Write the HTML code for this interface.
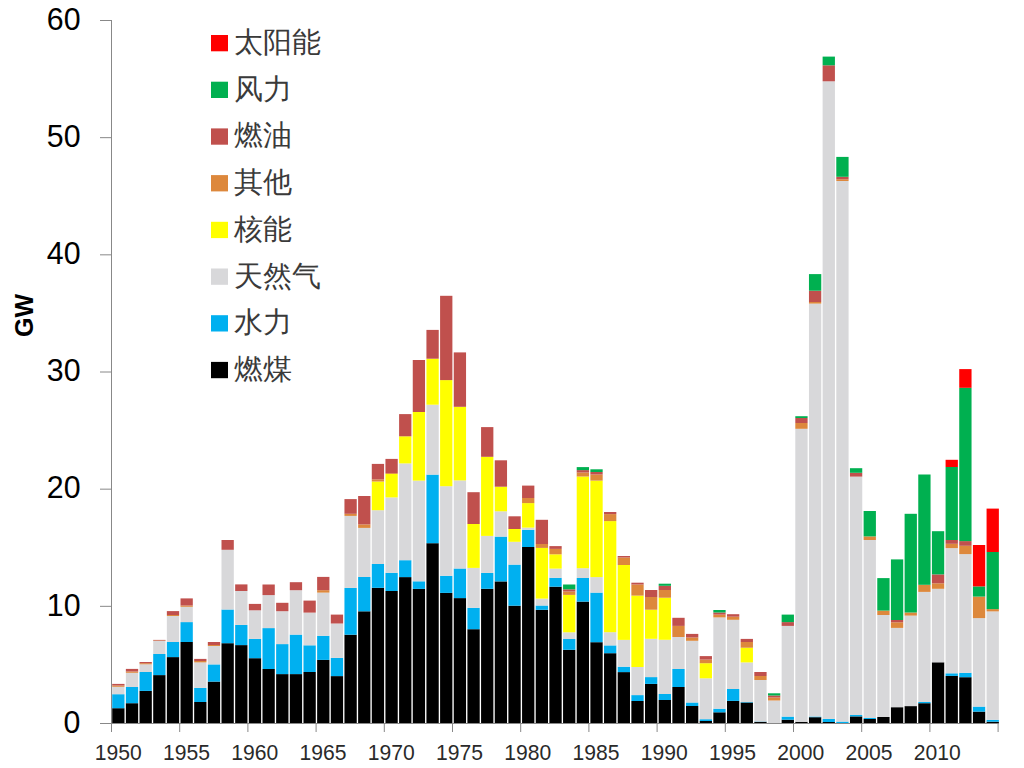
<!DOCTYPE html>
<html><head><meta charset="utf-8"><style>
html,body{margin:0;padding:0;background:#fff;}
body{width:1024px;height:768px;overflow:hidden;}
svg{display:block;}
.ax line{stroke:#888888;stroke-width:1;}
.yl text{font-family:"Liberation Sans",sans-serif;font-size:31.5px;fill:#000;}
.xl text{font-family:"Liberation Sans",sans-serif;font-size:22px;fill:#2a2a2a;}
.lg text{font-family:"Liberation Serif",serif;font-size:29px;fill:#3a3a3a;}
</style></head><body>
<svg width="1024" height="768" viewBox="0 0 1024 768">
<rect width="1024" height="768" fill="#fff"/>
<g>
<rect x="112.20" y="708.20" width="12.3" height="14.80" fill="#000000"/>
<rect x="112.20" y="694.20" width="12.3" height="14.00" fill="#00B0F0"/>
<rect x="112.20" y="686.80" width="12.3" height="7.40" fill="#D8D8DA"/>
<rect x="112.20" y="685.50" width="12.3" height="1.30" fill="#DD883C"/>
<rect x="112.20" y="683.90" width="12.3" height="1.60" fill="#C0504D"/>
<rect x="125.86" y="703.20" width="12.3" height="19.80" fill="#000000"/>
<rect x="125.86" y="687.00" width="12.3" height="16.20" fill="#00B0F0"/>
<rect x="125.86" y="672.80" width="12.3" height="14.20" fill="#D8D8DA"/>
<rect x="125.86" y="671.50" width="12.3" height="1.30" fill="#DD883C"/>
<rect x="125.86" y="668.90" width="12.3" height="2.60" fill="#C0504D"/>
<rect x="139.52" y="690.90" width="12.3" height="32.10" fill="#000000"/>
<rect x="139.52" y="672.00" width="12.3" height="18.90" fill="#00B0F0"/>
<rect x="139.52" y="664.30" width="12.3" height="7.70" fill="#D8D8DA"/>
<rect x="139.52" y="663.20" width="12.3" height="1.10" fill="#DD883C"/>
<rect x="139.52" y="662.00" width="12.3" height="1.20" fill="#C0504D"/>
<rect x="153.19" y="675.10" width="12.3" height="47.90" fill="#000000"/>
<rect x="153.19" y="654.00" width="12.3" height="21.10" fill="#00B0F0"/>
<rect x="153.19" y="641.00" width="12.3" height="13.00" fill="#D8D8DA"/>
<rect x="153.19" y="640.50" width="12.3" height="0.50" fill="#DD883C"/>
<rect x="153.19" y="639.90" width="12.3" height="0.60" fill="#C0504D"/>
<rect x="166.85" y="657.10" width="12.3" height="65.90" fill="#000000"/>
<rect x="166.85" y="642.00" width="12.3" height="15.10" fill="#00B0F0"/>
<rect x="166.85" y="616.00" width="12.3" height="26.00" fill="#D8D8DA"/>
<rect x="166.85" y="615.00" width="12.3" height="1.00" fill="#DD883C"/>
<rect x="166.85" y="611.10" width="12.3" height="3.90" fill="#C0504D"/>
<rect x="180.51" y="642.00" width="12.3" height="81.00" fill="#000000"/>
<rect x="180.51" y="622.10" width="12.3" height="19.90" fill="#00B0F0"/>
<rect x="180.51" y="606.80" width="12.3" height="15.30" fill="#D8D8DA"/>
<rect x="180.51" y="605.50" width="12.3" height="1.30" fill="#DD883C"/>
<rect x="180.51" y="598.40" width="12.3" height="7.10" fill="#C0504D"/>
<rect x="194.17" y="702.00" width="12.3" height="21.00" fill="#000000"/>
<rect x="194.17" y="687.90" width="12.3" height="14.10" fill="#00B0F0"/>
<rect x="194.17" y="662.40" width="12.3" height="25.50" fill="#D8D8DA"/>
<rect x="194.17" y="661.00" width="12.3" height="1.40" fill="#DD883C"/>
<rect x="194.17" y="658.90" width="12.3" height="2.10" fill="#C0504D"/>
<rect x="207.83" y="681.60" width="12.3" height="41.40" fill="#000000"/>
<rect x="207.83" y="664.40" width="12.3" height="17.20" fill="#00B0F0"/>
<rect x="207.83" y="646.00" width="12.3" height="18.40" fill="#D8D8DA"/>
<rect x="207.83" y="645.00" width="12.3" height="1.00" fill="#DD883C"/>
<rect x="207.83" y="642.00" width="12.3" height="3.00" fill="#C0504D"/>
<rect x="221.50" y="643.20" width="12.3" height="79.80" fill="#000000"/>
<rect x="221.50" y="609.50" width="12.3" height="33.70" fill="#00B0F0"/>
<rect x="221.50" y="549.80" width="12.3" height="59.70" fill="#D8D8DA"/>
<rect x="221.50" y="540.00" width="12.3" height="9.80" fill="#C0504D"/>
<rect x="235.16" y="645.10" width="12.3" height="77.90" fill="#000000"/>
<rect x="235.16" y="624.90" width="12.3" height="20.20" fill="#00B0F0"/>
<rect x="235.16" y="591.00" width="12.3" height="33.90" fill="#D8D8DA"/>
<rect x="235.16" y="584.40" width="12.3" height="6.60" fill="#C0504D"/>
<rect x="248.82" y="658.20" width="12.3" height="64.80" fill="#000000"/>
<rect x="248.82" y="638.90" width="12.3" height="19.30" fill="#00B0F0"/>
<rect x="248.82" y="610.30" width="12.3" height="28.60" fill="#D8D8DA"/>
<rect x="248.82" y="603.90" width="12.3" height="6.40" fill="#C0504D"/>
<rect x="262.48" y="669.00" width="12.3" height="54.00" fill="#000000"/>
<rect x="262.48" y="628.10" width="12.3" height="40.90" fill="#00B0F0"/>
<rect x="262.48" y="595.10" width="12.3" height="33.00" fill="#D8D8DA"/>
<rect x="262.48" y="584.50" width="12.3" height="10.60" fill="#C0504D"/>
<rect x="276.14" y="674.10" width="12.3" height="48.90" fill="#000000"/>
<rect x="276.14" y="644.10" width="12.3" height="30.00" fill="#00B0F0"/>
<rect x="276.14" y="611.20" width="12.3" height="32.90" fill="#D8D8DA"/>
<rect x="276.14" y="602.80" width="12.3" height="8.40" fill="#C0504D"/>
<rect x="289.81" y="674.10" width="12.3" height="48.90" fill="#000000"/>
<rect x="289.81" y="634.60" width="12.3" height="39.50" fill="#00B0F0"/>
<rect x="289.81" y="590.20" width="12.3" height="44.40" fill="#D8D8DA"/>
<rect x="289.81" y="582.20" width="12.3" height="8.00" fill="#C0504D"/>
<rect x="303.47" y="672.00" width="12.3" height="51.00" fill="#000000"/>
<rect x="303.47" y="645.30" width="12.3" height="26.70" fill="#00B0F0"/>
<rect x="303.47" y="612.60" width="12.3" height="32.70" fill="#D8D8DA"/>
<rect x="303.47" y="600.60" width="12.3" height="12.00" fill="#C0504D"/>
<rect x="317.13" y="659.90" width="12.3" height="63.10" fill="#000000"/>
<rect x="317.13" y="635.80" width="12.3" height="24.10" fill="#00B0F0"/>
<rect x="317.13" y="592.60" width="12.3" height="43.20" fill="#D8D8DA"/>
<rect x="317.13" y="590.20" width="12.3" height="2.40" fill="#DD883C"/>
<rect x="317.13" y="576.90" width="12.3" height="13.30" fill="#C0504D"/>
<rect x="330.79" y="676.10" width="12.3" height="46.90" fill="#000000"/>
<rect x="330.79" y="657.90" width="12.3" height="18.20" fill="#00B0F0"/>
<rect x="330.79" y="623.50" width="12.3" height="34.40" fill="#D8D8DA"/>
<rect x="330.79" y="614.60" width="12.3" height="8.90" fill="#C0504D"/>
<rect x="344.45" y="634.70" width="12.3" height="88.30" fill="#000000"/>
<rect x="344.45" y="587.90" width="12.3" height="46.80" fill="#00B0F0"/>
<rect x="344.45" y="515.90" width="12.3" height="72.00" fill="#D8D8DA"/>
<rect x="344.45" y="513.80" width="12.3" height="2.10" fill="#DD883C"/>
<rect x="344.45" y="499.10" width="12.3" height="14.70" fill="#C0504D"/>
<rect x="358.12" y="611.30" width="12.3" height="111.70" fill="#000000"/>
<rect x="358.12" y="577.00" width="12.3" height="34.30" fill="#00B0F0"/>
<rect x="358.12" y="527.90" width="12.3" height="49.10" fill="#D8D8DA"/>
<rect x="358.12" y="524.40" width="12.3" height="3.50" fill="#DD883C"/>
<rect x="358.12" y="496.00" width="12.3" height="28.40" fill="#C0504D"/>
<rect x="371.78" y="587.80" width="12.3" height="135.20" fill="#000000"/>
<rect x="371.78" y="564.00" width="12.3" height="23.80" fill="#00B0F0"/>
<rect x="371.78" y="510.20" width="12.3" height="53.80" fill="#D8D8DA"/>
<rect x="371.78" y="481.50" width="12.3" height="28.70" fill="#FFFF00"/>
<rect x="371.78" y="479.40" width="12.3" height="2.10" fill="#DD883C"/>
<rect x="371.78" y="463.90" width="12.3" height="15.50" fill="#C0504D"/>
<rect x="385.44" y="591.00" width="12.3" height="132.00" fill="#000000"/>
<rect x="385.44" y="572.80" width="12.3" height="18.20" fill="#00B0F0"/>
<rect x="385.44" y="497.40" width="12.3" height="75.40" fill="#D8D8DA"/>
<rect x="385.44" y="473.90" width="12.3" height="23.50" fill="#FFFF00"/>
<rect x="385.44" y="473.00" width="12.3" height="0.90" fill="#DD883C"/>
<rect x="385.44" y="458.90" width="12.3" height="14.10" fill="#C0504D"/>
<rect x="399.10" y="577.10" width="12.3" height="145.90" fill="#000000"/>
<rect x="399.10" y="560.20" width="12.3" height="16.90" fill="#00B0F0"/>
<rect x="399.10" y="463.40" width="12.3" height="96.80" fill="#D8D8DA"/>
<rect x="399.10" y="436.30" width="12.3" height="27.10" fill="#FFFF00"/>
<rect x="399.10" y="414.10" width="12.3" height="22.20" fill="#C0504D"/>
<rect x="412.76" y="588.90" width="12.3" height="134.10" fill="#000000"/>
<rect x="412.76" y="581.30" width="12.3" height="7.60" fill="#00B0F0"/>
<rect x="412.76" y="480.60" width="12.3" height="100.70" fill="#D8D8DA"/>
<rect x="412.76" y="412.00" width="12.3" height="68.60" fill="#FFFF00"/>
<rect x="412.76" y="360.00" width="12.3" height="52.00" fill="#C0504D"/>
<rect x="426.43" y="543.20" width="12.3" height="179.80" fill="#000000"/>
<rect x="426.43" y="474.60" width="12.3" height="68.60" fill="#00B0F0"/>
<rect x="426.43" y="404.70" width="12.3" height="69.90" fill="#D8D8DA"/>
<rect x="426.43" y="358.70" width="12.3" height="46.00" fill="#FFFF00"/>
<rect x="426.43" y="329.90" width="12.3" height="28.80" fill="#C0504D"/>
<rect x="440.09" y="592.90" width="12.3" height="130.10" fill="#000000"/>
<rect x="440.09" y="575.80" width="12.3" height="17.10" fill="#00B0F0"/>
<rect x="440.09" y="486.20" width="12.3" height="89.60" fill="#D8D8DA"/>
<rect x="440.09" y="380.10" width="12.3" height="106.10" fill="#FFFF00"/>
<rect x="440.09" y="295.80" width="12.3" height="84.30" fill="#C0504D"/>
<rect x="453.75" y="598.10" width="12.3" height="124.90" fill="#000000"/>
<rect x="453.75" y="568.50" width="12.3" height="29.60" fill="#00B0F0"/>
<rect x="453.75" y="480.40" width="12.3" height="88.10" fill="#D8D8DA"/>
<rect x="453.75" y="406.80" width="12.3" height="73.60" fill="#FFFF00"/>
<rect x="453.75" y="352.40" width="12.3" height="54.40" fill="#C0504D"/>
<rect x="467.41" y="629.20" width="12.3" height="93.80" fill="#000000"/>
<rect x="467.41" y="607.80" width="12.3" height="21.40" fill="#00B0F0"/>
<rect x="467.41" y="567.90" width="12.3" height="39.90" fill="#D8D8DA"/>
<rect x="467.41" y="524.00" width="12.3" height="43.90" fill="#FFFF00"/>
<rect x="467.41" y="492.20" width="12.3" height="31.80" fill="#C0504D"/>
<rect x="481.07" y="588.80" width="12.3" height="134.20" fill="#000000"/>
<rect x="481.07" y="572.90" width="12.3" height="15.90" fill="#00B0F0"/>
<rect x="481.07" y="535.90" width="12.3" height="37.00" fill="#D8D8DA"/>
<rect x="481.07" y="456.80" width="12.3" height="79.10" fill="#FFFF00"/>
<rect x="481.07" y="427.10" width="12.3" height="29.70" fill="#C0504D"/>
<rect x="494.74" y="581.40" width="12.3" height="141.60" fill="#000000"/>
<rect x="494.74" y="536.60" width="12.3" height="44.80" fill="#00B0F0"/>
<rect x="494.74" y="511.30" width="12.3" height="25.30" fill="#D8D8DA"/>
<rect x="494.74" y="486.70" width="12.3" height="24.60" fill="#FFFF00"/>
<rect x="494.74" y="460.30" width="12.3" height="26.40" fill="#C0504D"/>
<rect x="508.40" y="605.70" width="12.3" height="117.30" fill="#000000"/>
<rect x="508.40" y="564.60" width="12.3" height="41.10" fill="#00B0F0"/>
<rect x="508.40" y="541.80" width="12.3" height="22.80" fill="#D8D8DA"/>
<rect x="508.40" y="529.00" width="12.3" height="12.80" fill="#FFFF00"/>
<rect x="508.40" y="516.30" width="12.3" height="12.70" fill="#C0504D"/>
<rect x="522.06" y="547.00" width="12.3" height="176.00" fill="#000000"/>
<rect x="522.06" y="529.80" width="12.3" height="17.20" fill="#00B0F0"/>
<rect x="522.06" y="527.60" width="12.3" height="2.20" fill="#D8D8DA"/>
<rect x="522.06" y="503.10" width="12.3" height="24.50" fill="#FFFF00"/>
<rect x="522.06" y="498.00" width="12.3" height="5.10" fill="#DD883C"/>
<rect x="522.06" y="485.60" width="12.3" height="12.40" fill="#C0504D"/>
<rect x="535.72" y="609.80" width="12.3" height="113.20" fill="#000000"/>
<rect x="535.72" y="605.50" width="12.3" height="4.30" fill="#00B0F0"/>
<rect x="535.72" y="598.60" width="12.3" height="6.90" fill="#D8D8DA"/>
<rect x="535.72" y="547.90" width="12.3" height="50.70" fill="#FFFF00"/>
<rect x="535.72" y="544.00" width="12.3" height="3.90" fill="#DD883C"/>
<rect x="535.72" y="519.80" width="12.3" height="24.20" fill="#C0504D"/>
<rect x="549.38" y="586.70" width="12.3" height="136.30" fill="#000000"/>
<rect x="549.38" y="577.80" width="12.3" height="8.90" fill="#00B0F0"/>
<rect x="549.38" y="568.60" width="12.3" height="9.20" fill="#D8D8DA"/>
<rect x="549.38" y="554.30" width="12.3" height="14.30" fill="#FFFF00"/>
<rect x="549.38" y="548.90" width="12.3" height="5.40" fill="#DD883C"/>
<rect x="549.38" y="546.10" width="12.3" height="2.80" fill="#C0504D"/>
<rect x="563.05" y="649.80" width="12.3" height="73.20" fill="#000000"/>
<rect x="563.05" y="639.00" width="12.3" height="10.80" fill="#00B0F0"/>
<rect x="563.05" y="632.30" width="12.3" height="6.70" fill="#D8D8DA"/>
<rect x="563.05" y="594.90" width="12.3" height="37.40" fill="#FFFF00"/>
<rect x="563.05" y="591.50" width="12.3" height="3.40" fill="#DD883C"/>
<rect x="563.05" y="589.30" width="12.3" height="2.20" fill="#C0504D"/>
<rect x="563.05" y="584.50" width="12.3" height="4.80" fill="#00B050"/>
<rect x="576.71" y="601.60" width="12.3" height="121.40" fill="#000000"/>
<rect x="576.71" y="578.00" width="12.3" height="23.60" fill="#00B0F0"/>
<rect x="576.71" y="568.20" width="12.3" height="9.80" fill="#D8D8DA"/>
<rect x="576.71" y="476.50" width="12.3" height="91.70" fill="#FFFF00"/>
<rect x="576.71" y="472.50" width="12.3" height="4.00" fill="#DD883C"/>
<rect x="576.71" y="470.10" width="12.3" height="2.40" fill="#C0504D"/>
<rect x="576.71" y="467.10" width="12.3" height="3.00" fill="#00B050"/>
<rect x="590.37" y="642.20" width="12.3" height="80.80" fill="#000000"/>
<rect x="590.37" y="592.60" width="12.3" height="49.60" fill="#00B0F0"/>
<rect x="590.37" y="577.10" width="12.3" height="15.50" fill="#D8D8DA"/>
<rect x="590.37" y="480.60" width="12.3" height="96.50" fill="#FFFF00"/>
<rect x="590.37" y="474.50" width="12.3" height="6.10" fill="#DD883C"/>
<rect x="590.37" y="472.00" width="12.3" height="2.50" fill="#C0504D"/>
<rect x="590.37" y="469.30" width="12.3" height="2.70" fill="#00B050"/>
<rect x="604.03" y="653.20" width="12.3" height="69.80" fill="#000000"/>
<rect x="604.03" y="645.40" width="12.3" height="7.80" fill="#00B0F0"/>
<rect x="604.03" y="632.20" width="12.3" height="13.20" fill="#D8D8DA"/>
<rect x="604.03" y="521.10" width="12.3" height="111.10" fill="#FFFF00"/>
<rect x="604.03" y="514.10" width="12.3" height="7.00" fill="#DD883C"/>
<rect x="604.03" y="512.00" width="12.3" height="2.10" fill="#C0504D"/>
<rect x="617.69" y="672.10" width="12.3" height="50.90" fill="#000000"/>
<rect x="617.69" y="666.70" width="12.3" height="5.40" fill="#00B0F0"/>
<rect x="617.69" y="639.90" width="12.3" height="26.80" fill="#D8D8DA"/>
<rect x="617.69" y="565.00" width="12.3" height="74.90" fill="#FFFF00"/>
<rect x="617.69" y="557.50" width="12.3" height="7.50" fill="#DD883C"/>
<rect x="617.69" y="556.00" width="12.3" height="1.50" fill="#C0504D"/>
<rect x="631.36" y="701.00" width="12.3" height="22.00" fill="#000000"/>
<rect x="631.36" y="695.10" width="12.3" height="5.90" fill="#00B0F0"/>
<rect x="631.36" y="667.00" width="12.3" height="28.10" fill="#D8D8DA"/>
<rect x="631.36" y="595.60" width="12.3" height="71.40" fill="#FFFF00"/>
<rect x="631.36" y="584.50" width="12.3" height="11.10" fill="#DD883C"/>
<rect x="631.36" y="582.70" width="12.3" height="1.80" fill="#C0504D"/>
<rect x="645.02" y="683.90" width="12.3" height="39.10" fill="#000000"/>
<rect x="645.02" y="677.10" width="12.3" height="6.80" fill="#00B0F0"/>
<rect x="645.02" y="638.80" width="12.3" height="38.30" fill="#D8D8DA"/>
<rect x="645.02" y="609.70" width="12.3" height="29.10" fill="#FFFF00"/>
<rect x="645.02" y="597.00" width="12.3" height="12.70" fill="#DD883C"/>
<rect x="645.02" y="590.00" width="12.3" height="7.00" fill="#C0504D"/>
<rect x="658.68" y="700.00" width="12.3" height="23.00" fill="#000000"/>
<rect x="658.68" y="694.00" width="12.3" height="6.00" fill="#00B0F0"/>
<rect x="658.68" y="639.80" width="12.3" height="54.20" fill="#D8D8DA"/>
<rect x="658.68" y="597.70" width="12.3" height="42.10" fill="#FFFF00"/>
<rect x="658.68" y="590.00" width="12.3" height="7.70" fill="#DD883C"/>
<rect x="658.68" y="585.80" width="12.3" height="4.20" fill="#C0504D"/>
<rect x="658.68" y="583.70" width="12.3" height="2.10" fill="#00B050"/>
<rect x="672.34" y="687.00" width="12.3" height="36.00" fill="#000000"/>
<rect x="672.34" y="669.00" width="12.3" height="18.00" fill="#00B0F0"/>
<rect x="672.34" y="637.00" width="12.3" height="32.00" fill="#D8D8DA"/>
<rect x="672.34" y="625.90" width="12.3" height="11.10" fill="#DD883C"/>
<rect x="672.34" y="617.80" width="12.3" height="8.10" fill="#C0504D"/>
<rect x="686.00" y="706.00" width="12.3" height="17.00" fill="#000000"/>
<rect x="686.00" y="702.50" width="12.3" height="3.50" fill="#00B0F0"/>
<rect x="686.00" y="640.80" width="12.3" height="61.70" fill="#D8D8DA"/>
<rect x="686.00" y="637.50" width="12.3" height="3.30" fill="#DD883C"/>
<rect x="686.00" y="633.90" width="12.3" height="3.60" fill="#C0504D"/>
<rect x="699.67" y="721.00" width="12.3" height="2.00" fill="#000000"/>
<rect x="699.67" y="719.20" width="12.3" height="1.80" fill="#00B0F0"/>
<rect x="699.67" y="678.30" width="12.3" height="40.90" fill="#D8D8DA"/>
<rect x="699.67" y="663.20" width="12.3" height="15.10" fill="#FFFF00"/>
<rect x="699.67" y="659.60" width="12.3" height="3.60" fill="#DD883C"/>
<rect x="699.67" y="656.10" width="12.3" height="3.50" fill="#C0504D"/>
<rect x="713.33" y="712.30" width="12.3" height="10.70" fill="#000000"/>
<rect x="713.33" y="708.70" width="12.3" height="3.60" fill="#00B0F0"/>
<rect x="713.33" y="617.40" width="12.3" height="91.30" fill="#D8D8DA"/>
<rect x="713.33" y="614.60" width="12.3" height="2.80" fill="#DD883C"/>
<rect x="713.33" y="612.50" width="12.3" height="2.10" fill="#C0504D"/>
<rect x="713.33" y="610.00" width="12.3" height="2.50" fill="#00B050"/>
<rect x="726.99" y="700.90" width="12.3" height="22.10" fill="#000000"/>
<rect x="726.99" y="689.00" width="12.3" height="11.90" fill="#00B0F0"/>
<rect x="726.99" y="619.80" width="12.3" height="69.20" fill="#D8D8DA"/>
<rect x="726.99" y="616.70" width="12.3" height="3.10" fill="#DD883C"/>
<rect x="726.99" y="614.20" width="12.3" height="2.50" fill="#C0504D"/>
<rect x="740.65" y="702.50" width="12.3" height="20.50" fill="#000000"/>
<rect x="740.65" y="702.00" width="12.3" height="0.50" fill="#00B0F0"/>
<rect x="740.65" y="662.40" width="12.3" height="39.60" fill="#D8D8DA"/>
<rect x="740.65" y="647.70" width="12.3" height="14.70" fill="#FFFF00"/>
<rect x="740.65" y="642.00" width="12.3" height="5.70" fill="#DD883C"/>
<rect x="740.65" y="638.90" width="12.3" height="3.10" fill="#C0504D"/>
<rect x="754.31" y="721.80" width="12.3" height="1.20" fill="#000000"/>
<rect x="754.31" y="721.50" width="12.3" height="0.30" fill="#00B0F0"/>
<rect x="754.31" y="680.00" width="12.3" height="41.50" fill="#D8D8DA"/>
<rect x="754.31" y="676.00" width="12.3" height="4.00" fill="#DD883C"/>
<rect x="754.31" y="672.00" width="12.3" height="4.00" fill="#C0504D"/>
<rect x="767.98" y="700.50" width="12.3" height="22.50" fill="#D8D8DA"/>
<rect x="767.98" y="697.50" width="12.3" height="3.00" fill="#DD883C"/>
<rect x="767.98" y="695.50" width="12.3" height="2.00" fill="#C0504D"/>
<rect x="767.98" y="693.30" width="12.3" height="2.20" fill="#00B050"/>
<rect x="781.64" y="719.70" width="12.3" height="3.30" fill="#000000"/>
<rect x="781.64" y="716.60" width="12.3" height="3.10" fill="#00B0F0"/>
<rect x="781.64" y="625.90" width="12.3" height="90.70" fill="#D8D8DA"/>
<rect x="781.64" y="622.10" width="12.3" height="3.80" fill="#C0504D"/>
<rect x="781.64" y="614.60" width="12.3" height="7.50" fill="#00B050"/>
<rect x="795.30" y="721.80" width="12.3" height="1.20" fill="#000000"/>
<rect x="795.30" y="428.80" width="12.3" height="293.00" fill="#D8D8DA"/>
<rect x="795.30" y="423.00" width="12.3" height="5.80" fill="#DD883C"/>
<rect x="795.30" y="418.00" width="12.3" height="5.00" fill="#C0504D"/>
<rect x="795.30" y="416.20" width="12.3" height="1.80" fill="#00B050"/>
<rect x="808.96" y="717.20" width="12.3" height="5.80" fill="#000000"/>
<rect x="808.96" y="716.50" width="12.3" height="0.70" fill="#00B0F0"/>
<rect x="808.96" y="303.60" width="12.3" height="412.90" fill="#D8D8DA"/>
<rect x="808.96" y="302.00" width="12.3" height="1.60" fill="#DD883C"/>
<rect x="808.96" y="290.70" width="12.3" height="11.30" fill="#C0504D"/>
<rect x="808.96" y="274.10" width="12.3" height="16.60" fill="#00B050"/>
<rect x="822.62" y="722.00" width="12.3" height="1.00" fill="#000000"/>
<rect x="822.62" y="718.90" width="12.3" height="3.10" fill="#00B0F0"/>
<rect x="822.62" y="81.30" width="12.3" height="637.60" fill="#D8D8DA"/>
<rect x="822.62" y="65.30" width="12.3" height="16.00" fill="#C0504D"/>
<rect x="822.62" y="56.60" width="12.3" height="8.70" fill="#00B050"/>
<rect x="836.29" y="721.60" width="12.3" height="1.40" fill="#00B0F0"/>
<rect x="836.29" y="181.00" width="12.3" height="540.60" fill="#D8D8DA"/>
<rect x="836.29" y="179.30" width="12.3" height="1.70" fill="#DD883C"/>
<rect x="836.29" y="176.80" width="12.3" height="2.50" fill="#C0504D"/>
<rect x="836.29" y="156.90" width="12.3" height="19.90" fill="#00B050"/>
<rect x="849.95" y="716.40" width="12.3" height="6.60" fill="#000000"/>
<rect x="849.95" y="715.00" width="12.3" height="1.40" fill="#00B0F0"/>
<rect x="849.95" y="476.60" width="12.3" height="238.40" fill="#D8D8DA"/>
<rect x="849.95" y="472.80" width="12.3" height="3.80" fill="#C0504D"/>
<rect x="849.95" y="468.20" width="12.3" height="4.60" fill="#00B050"/>
<rect x="863.61" y="719.00" width="12.3" height="4.00" fill="#000000"/>
<rect x="863.61" y="718.00" width="12.3" height="1.00" fill="#00B0F0"/>
<rect x="863.61" y="540.00" width="12.3" height="178.00" fill="#D8D8DA"/>
<rect x="863.61" y="536.40" width="12.3" height="3.60" fill="#DD883C"/>
<rect x="863.61" y="511.00" width="12.3" height="25.40" fill="#00B050"/>
<rect x="877.27" y="717.00" width="12.3" height="6.00" fill="#000000"/>
<rect x="877.27" y="615.00" width="12.3" height="102.00" fill="#D8D8DA"/>
<rect x="877.27" y="610.60" width="12.3" height="4.40" fill="#DD883C"/>
<rect x="877.27" y="578.10" width="12.3" height="32.50" fill="#00B050"/>
<rect x="890.93" y="707.20" width="12.3" height="15.80" fill="#000000"/>
<rect x="890.93" y="627.90" width="12.3" height="79.30" fill="#D8D8DA"/>
<rect x="890.93" y="622.30" width="12.3" height="5.60" fill="#DD883C"/>
<rect x="890.93" y="620.00" width="12.3" height="2.30" fill="#C0504D"/>
<rect x="890.93" y="559.40" width="12.3" height="60.60" fill="#00B050"/>
<rect x="904.60" y="706.10" width="12.3" height="16.90" fill="#000000"/>
<rect x="904.60" y="615.60" width="12.3" height="90.50" fill="#D8D8DA"/>
<rect x="904.60" y="612.50" width="12.3" height="3.10" fill="#DD883C"/>
<rect x="904.60" y="513.80" width="12.3" height="98.70" fill="#00B050"/>
<rect x="918.26" y="703.20" width="12.3" height="19.80" fill="#000000"/>
<rect x="918.26" y="702.00" width="12.3" height="1.20" fill="#00B0F0"/>
<rect x="918.26" y="591.90" width="12.3" height="110.10" fill="#D8D8DA"/>
<rect x="918.26" y="584.80" width="12.3" height="7.10" fill="#DD883C"/>
<rect x="918.26" y="474.50" width="12.3" height="110.30" fill="#00B050"/>
<rect x="931.92" y="662.30" width="12.3" height="60.70" fill="#000000"/>
<rect x="931.92" y="588.80" width="12.3" height="73.50" fill="#D8D8DA"/>
<rect x="931.92" y="583.30" width="12.3" height="5.50" fill="#DD883C"/>
<rect x="931.92" y="574.40" width="12.3" height="8.90" fill="#C0504D"/>
<rect x="931.92" y="531.20" width="12.3" height="43.20" fill="#00B050"/>
<rect x="945.58" y="675.90" width="12.3" height="47.10" fill="#000000"/>
<rect x="945.58" y="673.30" width="12.3" height="2.60" fill="#00B0F0"/>
<rect x="945.58" y="548.10" width="12.3" height="125.20" fill="#D8D8DA"/>
<rect x="945.58" y="543.80" width="12.3" height="4.30" fill="#DD883C"/>
<rect x="945.58" y="540.00" width="12.3" height="3.80" fill="#C0504D"/>
<rect x="945.58" y="467.00" width="12.3" height="73.00" fill="#00B050"/>
<rect x="945.58" y="459.80" width="12.3" height="7.20" fill="#FF0000"/>
<rect x="959.24" y="677.20" width="12.3" height="45.80" fill="#000000"/>
<rect x="959.24" y="672.80" width="12.3" height="4.40" fill="#00B0F0"/>
<rect x="959.24" y="554.10" width="12.3" height="118.70" fill="#D8D8DA"/>
<rect x="959.24" y="545.80" width="12.3" height="8.30" fill="#DD883C"/>
<rect x="959.24" y="541.10" width="12.3" height="4.70" fill="#C0504D"/>
<rect x="959.24" y="387.80" width="12.3" height="153.30" fill="#00B050"/>
<rect x="959.24" y="369.10" width="12.3" height="18.70" fill="#FF0000"/>
<rect x="972.91" y="711.60" width="12.3" height="11.40" fill="#000000"/>
<rect x="972.91" y="706.60" width="12.3" height="5.00" fill="#00B0F0"/>
<rect x="972.91" y="618.10" width="12.3" height="88.50" fill="#D8D8DA"/>
<rect x="972.91" y="596.60" width="12.3" height="21.50" fill="#DD883C"/>
<rect x="972.91" y="586.40" width="12.3" height="10.20" fill="#00B050"/>
<rect x="972.91" y="545.00" width="12.3" height="41.40" fill="#FF0000"/>
<rect x="986.57" y="721.70" width="12.3" height="1.30" fill="#000000"/>
<rect x="986.57" y="719.80" width="12.3" height="1.90" fill="#00B0F0"/>
<rect x="986.57" y="611.40" width="12.3" height="108.40" fill="#D8D8DA"/>
<rect x="986.57" y="609.10" width="12.3" height="2.30" fill="#DD883C"/>
<rect x="986.57" y="552.00" width="12.3" height="57.10" fill="#00B050"/>
<rect x="986.57" y="508.60" width="12.3" height="43.40" fill="#FF0000"/>
</g>
<g class="ax">
<line x1="111.5" y1="20" x2="111.5" y2="732"/>
<line x1="100" y1="723.5" x2="999" y2="723.5"/>
<line x1="100" y1="723.50" x2="112" y2="723.50"/>
<line x1="100" y1="606.33" x2="112" y2="606.33"/>
<line x1="100" y1="489.17" x2="112" y2="489.17"/>
<line x1="100" y1="372.00" x2="112" y2="372.00"/>
<line x1="100" y1="254.83" x2="112" y2="254.83"/>
<line x1="100" y1="137.67" x2="112" y2="137.67"/>
<line x1="100" y1="20.50" x2="112" y2="20.50"/>
<line x1="111.50" y1="723.5" x2="111.50" y2="732"/>
<line x1="179.70" y1="723.5" x2="179.70" y2="732"/>
<line x1="247.90" y1="723.5" x2="247.90" y2="732"/>
<line x1="316.10" y1="723.5" x2="316.10" y2="732"/>
<line x1="384.30" y1="723.5" x2="384.30" y2="732"/>
<line x1="452.50" y1="723.5" x2="452.50" y2="732"/>
<line x1="520.70" y1="723.5" x2="520.70" y2="732"/>
<line x1="588.90" y1="723.5" x2="588.90" y2="732"/>
<line x1="657.10" y1="723.5" x2="657.10" y2="732"/>
<line x1="725.30" y1="723.5" x2="725.30" y2="732"/>
<line x1="793.50" y1="723.5" x2="793.50" y2="732"/>
<line x1="861.70" y1="723.5" x2="861.70" y2="732"/>
<line x1="929.90" y1="723.5" x2="929.90" y2="732"/>
<line x1="998.10" y1="723.5" x2="998.10" y2="732"/>
</g>
<g class="yl"><text transform="translate(80.5,732.70) scale(0.963,1)" text-anchor="end">0</text>
<text transform="translate(80.5,615.53) scale(0.963,1)" text-anchor="end">10</text>
<text transform="translate(80.5,498.37) scale(0.963,1)" text-anchor="end">20</text>
<text transform="translate(80.5,381.20) scale(0.963,1)" text-anchor="end">30</text>
<text transform="translate(80.5,264.03) scale(0.963,1)" text-anchor="end">40</text>
<text transform="translate(80.5,146.87) scale(0.963,1)" text-anchor="end">50</text>
<text transform="translate(80.5,29.70) scale(0.963,1)" text-anchor="end">60</text></g>
<g class="xl"><text transform="translate(118.20,759.8) scale(0.96,1)" text-anchor="middle">1950</text>
<text transform="translate(186.45,759.8) scale(0.96,1)" text-anchor="middle">1955</text>
<text transform="translate(254.70,759.8) scale(0.96,1)" text-anchor="middle">1960</text>
<text transform="translate(322.95,759.8) scale(0.96,1)" text-anchor="middle">1965</text>
<text transform="translate(391.20,759.8) scale(0.96,1)" text-anchor="middle">1970</text>
<text transform="translate(459.45,759.8) scale(0.96,1)" text-anchor="middle">1975</text>
<text transform="translate(527.70,759.8) scale(0.96,1)" text-anchor="middle">1980</text>
<text transform="translate(595.95,759.8) scale(0.96,1)" text-anchor="middle">1985</text>
<text transform="translate(664.20,759.8) scale(0.96,1)" text-anchor="middle">1990</text>
<text transform="translate(732.45,759.8) scale(0.96,1)" text-anchor="middle">1995</text>
<text transform="translate(800.70,759.8) scale(0.96,1)" text-anchor="middle">2000</text>
<text transform="translate(868.95,759.8) scale(0.96,1)" text-anchor="middle">2005</text>
<text transform="translate(937.20,759.8) scale(0.96,1)" text-anchor="middle">2010</text></g>
<text x="0" y="0" transform="translate(32.5,315.5) rotate(-90)" text-anchor="middle" style="font-family:'Liberation Sans',sans-serif;font-weight:bold;font-size:25px;fill:#000">GW</text>
<g class="lg"><rect x="211" y="35.00" width="17" height="16.3" fill="#FF0000"/>
<text x="233.5" y="52.00">太阳能</text>
<rect x="211" y="81.70" width="17" height="16.3" fill="#00B050"/>
<text x="233.5" y="98.70">风力</text>
<rect x="211" y="128.40" width="17" height="16.3" fill="#C0504D"/>
<text x="233.5" y="145.40">燃油</text>
<rect x="211" y="175.10" width="17" height="16.3" fill="#DD883C"/>
<text x="233.5" y="192.10">其他</text>
<rect x="211" y="221.80" width="17" height="16.3" fill="#FFFF00"/>
<text x="233.5" y="238.80">核能</text>
<rect x="211" y="268.50" width="17" height="16.3" fill="#D8D8DA"/>
<text x="233.5" y="285.50">天然气</text>
<rect x="211" y="315.20" width="17" height="16.3" fill="#00B0F0"/>
<text x="233.5" y="332.20">水力</text>
<rect x="211" y="361.90" width="17" height="16.3" fill="#000000"/>
<text x="233.5" y="378.90">燃煤</text></g>
</svg>
</body></html>
